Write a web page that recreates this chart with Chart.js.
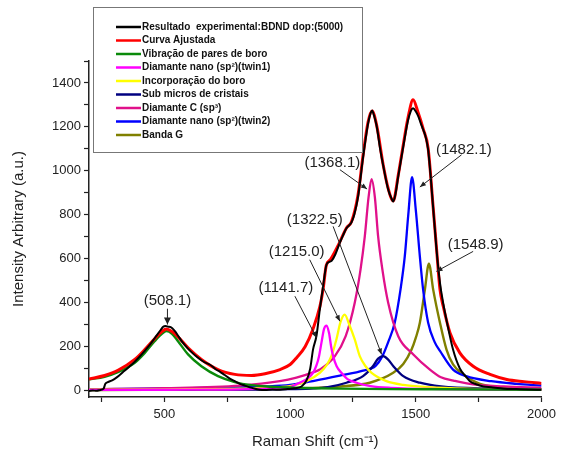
<!DOCTYPE html>
<html>
<head>
<meta charset="utf-8">
<script src="https://cdn.jsdelivr.net/npm/chart.js@4.4.1/dist/chart.umd.min.js"></script>
<style>
  html, body { margin: 0; padding: 0; background: #fff; }
</style>
</head>
<body>
<canvas id="raman" width="561" height="452"></canvas>
<script>
// Experimental spectrum (black)
const expX = [200, 215, 230, 245, 258, 265, 275, 290, 305, 320, 340, 360, 380, 400, 420, 440, 455, 470, 485, 495, 505, 515, 525, 540, 555, 570, 590, 610, 630, 650, 665, 680, 695, 705, 720, 740, 760, 780, 800, 820, 840, 860, 880, 900, 930, 960, 990, 1020, 1045, 1065, 1080, 1091, 1105, 1118, 1131, 1144, 1155, 1165, 1180, 1195, 1210, 1224, 1235, 1244, 1255, 1270, 1290, 1310, 1320, 1326, 1334, 1344, 1358, 1370, 1390, 1403, 1410, 1420, 1430, 1450, 1469, 1480, 1489, 1500, 1509, 1520, 1529, 1540, 1549, 1560, 1569, 1582, 1596, 1610, 1622, 1648, 1675, 1700, 1715, 1740, 1768, 1800, 1850, 1900, 1950, 2000];
const expY = [-3, 0, -2, 2, 8, 30, 38, 45, 55, 68, 88, 108, 128, 152, 178, 205, 228, 252, 275, 290, 293, 290, 288, 272, 248, 222, 195, 172, 152, 135, 125, 118, 105, 95, 86, 70, 54, 42, 30, 22, 14, 8, 3, 2, 4, 3, 6, 10, 18, 45, 100, 186, 250, 368, 474, 570, 585, 590, 620, 665, 705, 738, 752, 765, 800, 880, 1060, 1215, 1262, 1275, 1250, 1205, 1100, 1025, 915, 875, 860, 900, 975, 1110, 1230, 1272, 1285, 1270, 1250, 1215, 1188, 1150, 1095, 960, 830, 645, 490, 390, 320, 186, 100, 62, 42, 28, 18, 14, 8, 6, 4, 3];

// Fitted sum (red)
const fitX = [200, 262, 315, 382, 422, 461, 490, 508, 530, 554, 594, 647, 713, 780, 846, 900, 960, 1000, 1025, 1060, 1091, 1118, 1131, 1144, 1160, 1191, 1224, 1244, 1270, 1290, 1310, 1326, 1344, 1370, 1390, 1410, 1430, 1450, 1469, 1489, 1509, 1529, 1549, 1569, 1582, 1596, 1609, 1636, 1675, 1728, 1795, 1862, 1930, 2000];
const fitY = [52, 68, 91, 141, 186, 235, 268, 280, 268, 244, 194, 141, 95, 73, 68, 76, 95, 118, 148, 200, 280, 380, 460, 570, 595, 660, 740, 768, 890, 1070, 1222, 1272, 1208, 1028, 920, 863, 980, 1118, 1242, 1323, 1265, 1192, 1102, 832, 650, 460, 383, 262, 171, 110, 73, 50, 40, 32];

// Fitted components
const boroParesX = [200, 262, 315, 382, 422, 461, 490, 508, 530, 554, 594, 647, 713, 780, 846, 926, 1000, 1100, 1200, 1400, 1600, 1800, 2000];
const boroParesY = [50, 62, 83, 126, 171, 224, 258, 270, 258, 224, 164, 110, 65, 38, 24, 17, 13, 10, 8, 6, 5, 4, 3];

const twin1X = [200, 500, 800, 959, 1000, 1038, 1070, 1091, 1105, 1115, 1125, 1135, 1145, 1155, 1163, 1171, 1185, 1204, 1230, 1264, 1320, 1400, 1600, 1800, 2000];
const twin1Y = [2, 3, 5, 10, 15, 35, 55, 80, 115, 156, 220, 280, 295, 260, 200, 156, 110, 80, 50, 35, 20, 12, 6, 4, 3];

const incorpX = [200, 500, 800, 959, 1000, 1065, 1118, 1145, 1164, 1184, 1200, 1217, 1235, 1257, 1277, 1300, 1324, 1383, 1450, 1550, 1700, 2000];
const incorpY = [3, 5, 8, 15, 20, 42, 80, 115, 156, 232, 310, 345, 300, 232, 156, 110, 80, 42, 25, 15, 8, 4];

const subMicroX = [200, 600, 1000, 1150, 1224, 1290, 1330, 1350, 1370, 1390, 1410, 1450, 1516, 1600, 1800, 2000];
const subMicroY = [2, 3, 6, 15, 35, 65, 111, 145, 156, 140, 111, 65, 35, 18, 8, 5];

const diamCX = [200, 500, 800, 959, 1025, 1091, 1118, 1178, 1221, 1257, 1280, 1297, 1312, 1324, 1337, 1350, 1367, 1390, 1430, 1489, 1556, 1600, 1650, 1728, 1850, 2000];
const diamCY = [5, 10, 22, 42, 58, 82, 95, 156, 247, 399, 550, 701, 880, 962, 880, 701, 550, 399, 247, 165, 95, 60, 45, 27, 18, 12];

const twin2X = [200, 600, 900, 1000, 1100, 1200, 1290, 1340, 1367, 1390, 1416, 1439, 1456, 1470, 1485, 1500, 1516, 1529, 1549, 1575, 1596, 1648, 1700, 1800, 1900, 2000];
const twin2Y = [5, 10, 18, 25, 45, 68, 90, 112, 156, 220, 308, 459, 610, 800, 971, 820, 610, 459, 308, 220, 180, 95, 65, 42, 30, 22];

const bandaGX = [200, 1000, 1200, 1317, 1410, 1450, 1483, 1500, 1516, 1536, 1552, 1569, 1596, 1622, 1648, 1688, 1755, 1862, 2000];
const bandaGY = [2, 8, 18, 35, 80, 120, 186, 240, 308, 459, 577, 459, 308, 186, 118, 73, 30, 13, 6];

const seriesLabels = [
  'Resultado  experimental:BDND dop:(5000)',
  'Curva Ajustada',
  'Vibração de pares de boro',
  'Diamante nano (sp²)(twin1)',
  'Incorporação do boro',
  'Sub micros de cristais',
  'Diamante C (sp³)',
  'Diamante nano (sp²)(twin2)',
  'Banda G'
];

// tick marks; only the labelled ones get text
const xTicks = [250, 500, 750, 1000, 1250, 1500, 1750, 2000];
const xTickLabels = [500, 1000, 1500, 2000];
const yTicks = [0, 100, 200, 300, 400, 500, 600, 700, 800, 900, 1000, 1100, 1200, 1300, 1400, 1500];
const yTickLabels = [0, 200, 400, 600, 800, 1000, 1200, 1400];

const peakLabels = ['(508.1)', '(1141.7)', '(1215.0)', '(1322.5)', '(1368.1)', '(1482.1)', '(1548.9)'];

const FONT = 'Liberation Sans, Arial, sans-serif';

function toPoints(xs, ys) {
  return xs.map((x, i) => ({ x: x, y: ys[i] }));
}

const colors = ['#000000', '#ff0000', '#0a8a0a', '#ff00ff', '#ffff00', '#000080', '#e0108a', '#0000ff', '#808000'];
const widths = [2, 3, 2.4, 2.3, 2.3, 2.3, 2.3, 2.3, 2.4];
const allX = [expX, fitX, boroParesX, twin1X, incorpX, subMicroX, diamCX, twin2X, bandaGX];
const allY = [expY, fitY, boroParesY, twin1Y, incorpY, subMicroY, diamCY, twin2Y, bandaGY];

const datasets = seriesLabels.map((label, i) => ({
  label: label,
  data: toPoints(allX[i], allY[i]),
  borderColor: colors[i],
  backgroundColor: colors[i],
  borderWidth: widths[i],
  pointRadius: 0,
  fill: false,
  cubicInterpolationMode: 'monotone'
}));

// where each peak label sits and where its arrow goes (data units)
const noteSpots = [
  { tx: 512, ty: 407, from: [512, 372], to: [512, 300], solid: true },
  { tx: 983, ty: 467, from: [1019, 429], to: [1105, 240] },
  { tx: 1026, ty: 633, from: [1078, 595], to: [1198, 315] },
  { tx: 1098, ty: 777, from: [1171, 747], to: [1364, 164] },
  { tx: 1168, ty: 1035, from: [1198, 1005], to: [1306, 917] },
  { tx: 1691, ty: 1095, from: [1682, 1073], to: [1516, 926] },
  { tx: 1738, ty: 664, from: [1728, 633], to: [1582, 542] }
];

function arrowHead(ctx, x0, y0, x1, y1, len, half) {
  const a = Math.atan2(y1 - y0, x1 - x0);
  ctx.beginPath();
  ctx.moveTo(x1, y1);
  ctx.lineTo(x1 - len * Math.cos(a) + half * Math.sin(a), y1 - len * Math.sin(a) - half * Math.cos(a));
  ctx.lineTo(x1 - len * Math.cos(a) - half * Math.sin(a), y1 - len * Math.sin(a) + half * Math.cos(a));
  ctx.closePath();
  ctx.fill();
}

const notesPlugin = {
  id: 'peakNotes',
  afterDatasetsDraw(chart) {
    const { ctx, scales: { x, y } } = chart;
    ctx.save();
    ctx.font = '15px ' + FONT;
    ctx.fillStyle = '#222';
    ctx.strokeStyle = '#222';
    ctx.lineWidth = 1;
    ctx.textAlign = 'center';
    ctx.textBaseline = 'middle';
    noteSpots.forEach((n, i) => {
      ctx.fillText(peakLabels[i], x.getPixelForValue(n.tx), y.getPixelForValue(n.ty));
      const x0 = x.getPixelForValue(n.from[0]), y0 = y.getPixelForValue(n.from[1]);
      const x1 = x.getPixelForValue(n.to[0]), y1 = y.getPixelForValue(n.to[1]);
      ctx.beginPath();
      ctx.moveTo(x0, y0);
      ctx.lineTo(x1, y1);
      ctx.stroke();
      if (n.solid) arrowHead(ctx, x0, y0, x1, y1, 7, 3.5);
      else arrowHead(ctx, x0, y0, x1, y1, 6, 2.5);
    });
    ctx.restore();
  }
};

const legendBox = {
  id: 'legendBox',
  afterDraw(chart) {
    const ctx = chart.ctx;
    ctx.save();
    ctx.fillStyle = '#fff';
    ctx.fillRect(93.5, 7.5, 269, 145);
    ctx.strokeStyle = '#777';
    ctx.lineWidth = 1;
    ctx.strokeRect(93.5, 7.5, 269, 145);
    ctx.font = 'bold 10px ' + FONT;
    ctx.textBaseline = 'middle';
    ctx.textAlign = 'left';
    chart.data.datasets.forEach((ds, i) => {
      const yy = 27 + i * 13.5;
      ctx.strokeStyle = ds.borderColor;
      ctx.lineWidth = 2.5;
      ctx.beginPath();
      ctx.moveTo(116, yy);
      ctx.lineTo(141, yy);
      ctx.stroke();
      ctx.fillStyle = '#111';
      ctx.fillText(ds.label, 142, yy);
    });
    ctx.restore();
  }
};

new Chart(document.getElementById('raman'), {
  type: 'line',
  data: { datasets: datasets },
  plugins: [notesPlugin, legendBox],
  options: {
    responsive: false,
    animation: false,
    layout: { padding: { top: 61, right: 18, bottom: 0, left: 0 } },
    plugins: { legend: { display: false }, tooltip: { enabled: false } },
    scales: {
      x: {
        type: 'linear',
        min: 200,
        max: 2000,
        border: { color: '#222', width: 1.5 },
        grid: { drawOnChartArea: false, drawTicks: true, tickLength: 5, tickColor: '#222', tickWidth: 1.2 },
        afterBuildTicks: s => { s.ticks = xTicks.map(v => ({ value: v })); },
        ticks: {
          autoSkip: false,
          maxRotation: 0,
          padding: 5,
          color: '#222',
          font: { family: FONT, size: 13 },
          callback: v => (xTickLabels.includes(v) ? String(v) : '')
        },
        title: { display: true, text: 'Raman Shift (cm⁻¹)', color: '#222', font: { family: FONT, size: 15 }, padding: { top: 2, bottom: 1 } },
        afterFit: s => { s.height = 55; }
      },
      y: {
        min: -30,
        max: 1500,
        border: { color: '#222', width: 1.5 },
        grid: { drawOnChartArea: false, drawTicks: true, tickLength: 5, tickColor: '#222', tickWidth: 1.2 },
        afterBuildTicks: s => { s.ticks = yTicks.map(v => ({ value: v })); },
        ticks: {
          autoSkip: false,
          padding: 3,
          color: '#222',
          font: { family: FONT, size: 13 },
          callback: v => (yTickLabels.includes(v) ? String(v) : '')
        },
        title: { display: true, text: 'Intensity Arbitrary (a.u.)', color: '#222', font: { family: FONT, size: 15 }, padding: { top: 10, bottom: 0 } },
        afterFit: s => { s.width = 89; }
      }
    }
  }
});
</script>
</body>
</html>
